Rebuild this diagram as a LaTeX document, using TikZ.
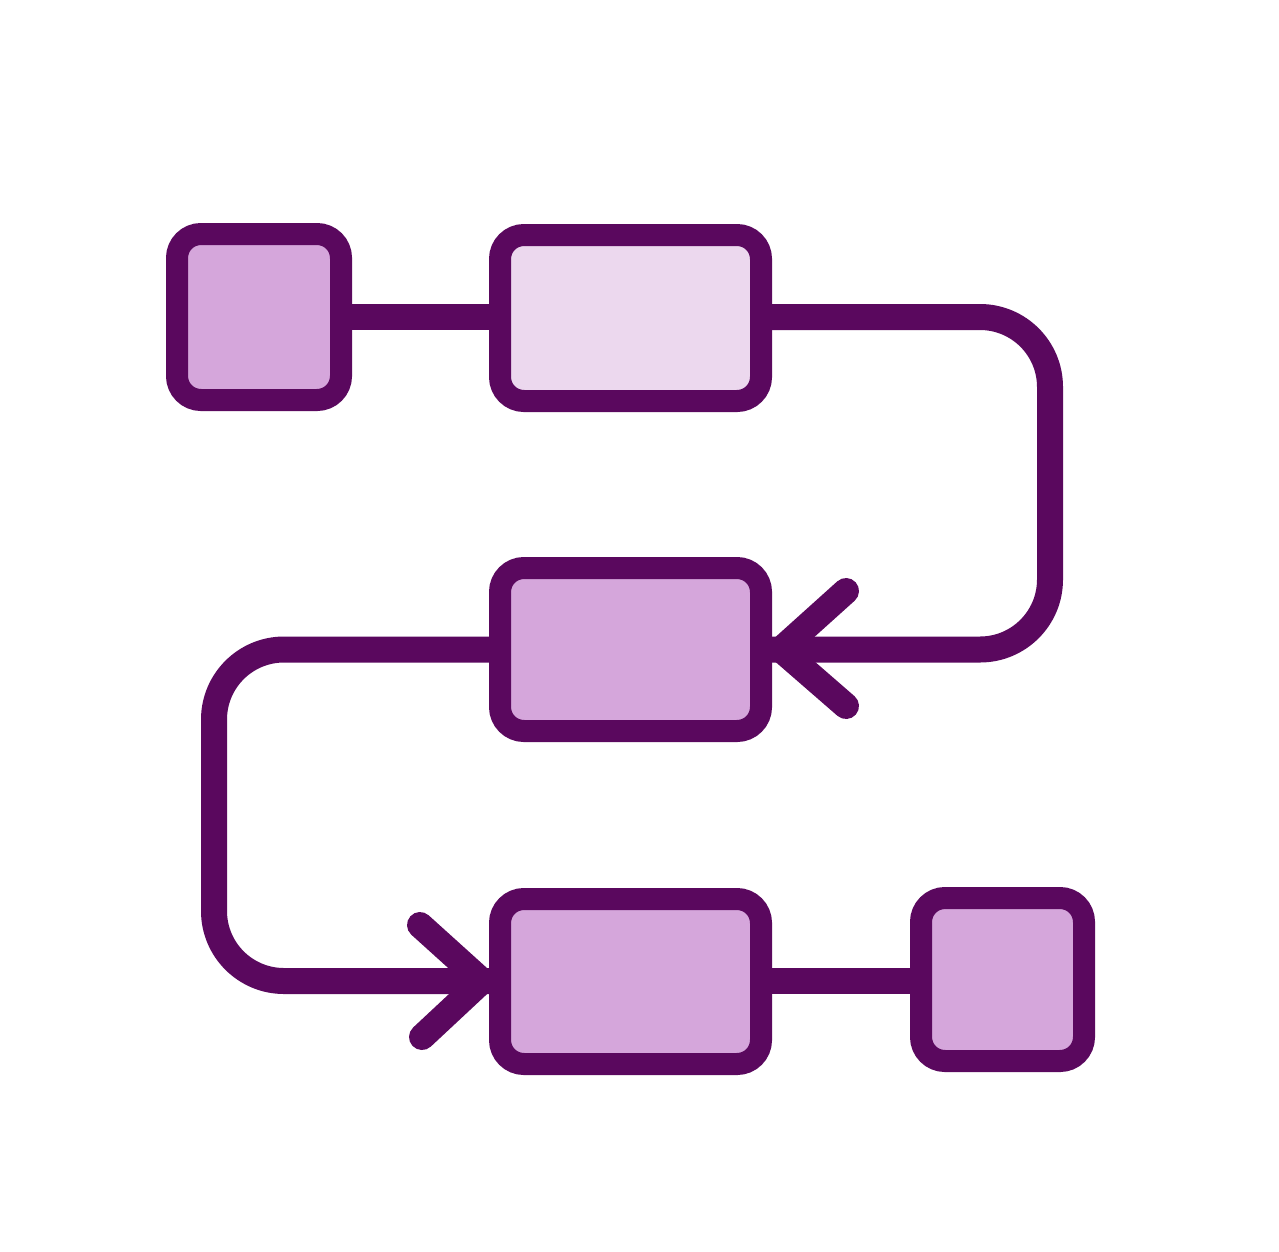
\documentclass[tikz,border=0pt]{standalone}
\usetikzlibrary{calc}
\definecolor{edgepurple}{RGB}{90,8,94}
\definecolor{fillmid}{RGB}{213,166,219}
\definecolor{filllight}{RGB}{236,216,238}
\begin{document}
\begin{tikzpicture}[x=1pt,y=-1pt,
  boxnode/.style={draw=edgepurple,line width=22pt,rounded corners=24pt,inner sep=0pt,fill=fillmid},
  conn/.style={draw=edgepurple,line width=26pt,line cap=round,line join=round},
  arm/.style={draw=edgepurple,line width=26pt,line cap=round,line join=round}]
\fill[white] (0,0) rectangle (1279,1251);
\useasboundingbox (0,0) rectangle (1279,1251);
% connector anchor points
\coordinate (acen) at (259,317);
\coordinate (bcen) at (630.5,317);
\coordinate (ccen) at (630.5,649.5);
\coordinate (dcen) at (630.5,981);
\coordinate (ecen) at (1002.5,981);
\coordinate (rtop) at (1050,317);
\coordinate (rbot) at (1050,649.5);
\coordinate (ltop) at (214,649.5);
\coordinate (lbot) at (214,981);
\draw[conn] (acen) -- (bcen);
\draw[conn] (dcen) -- (ecen);
\draw[conn,rounded corners=70pt,line cap=butt] (bcen) -- (rtop) -- (rbot) -- (ccen);
\draw[conn,rounded corners=70pt,line cap=butt] (ccen) -- (ltop) -- (lbot) -- (dcen);
% boxes
\node[boxnode,minimum width=164pt,minimum height=166pt] (A) at (acen) {};
\node[boxnode,fill=filllight,minimum width=261pt,minimum height=166pt] (B) at (630.5,318) {};
\node[boxnode,minimum width=261pt,minimum height=163pt] (C) at (ccen) {};
\node[boxnode,minimum width=261pt,minimum height=165pt] (D) at (630.5,981.5) {};
\node[boxnode,minimum width=163pt,minimum height=163pt] (E) at (1002.5,979.5) {};
% arrowheads
\coordinate (c1) at (846,591);
\coordinate (c2) at (846,706);
\coordinate (ctip) at (781,649.5);
\coordinate (d1) at (420,925);
\coordinate (d2) at (422,1037);
\coordinate (dtip) at (482,981);
\draw[arm] (c1) -- (ctip) -- (c2);
\draw[arm] (d1) -- (dtip) -- (d2);
\end{tikzpicture}
\end{document}
